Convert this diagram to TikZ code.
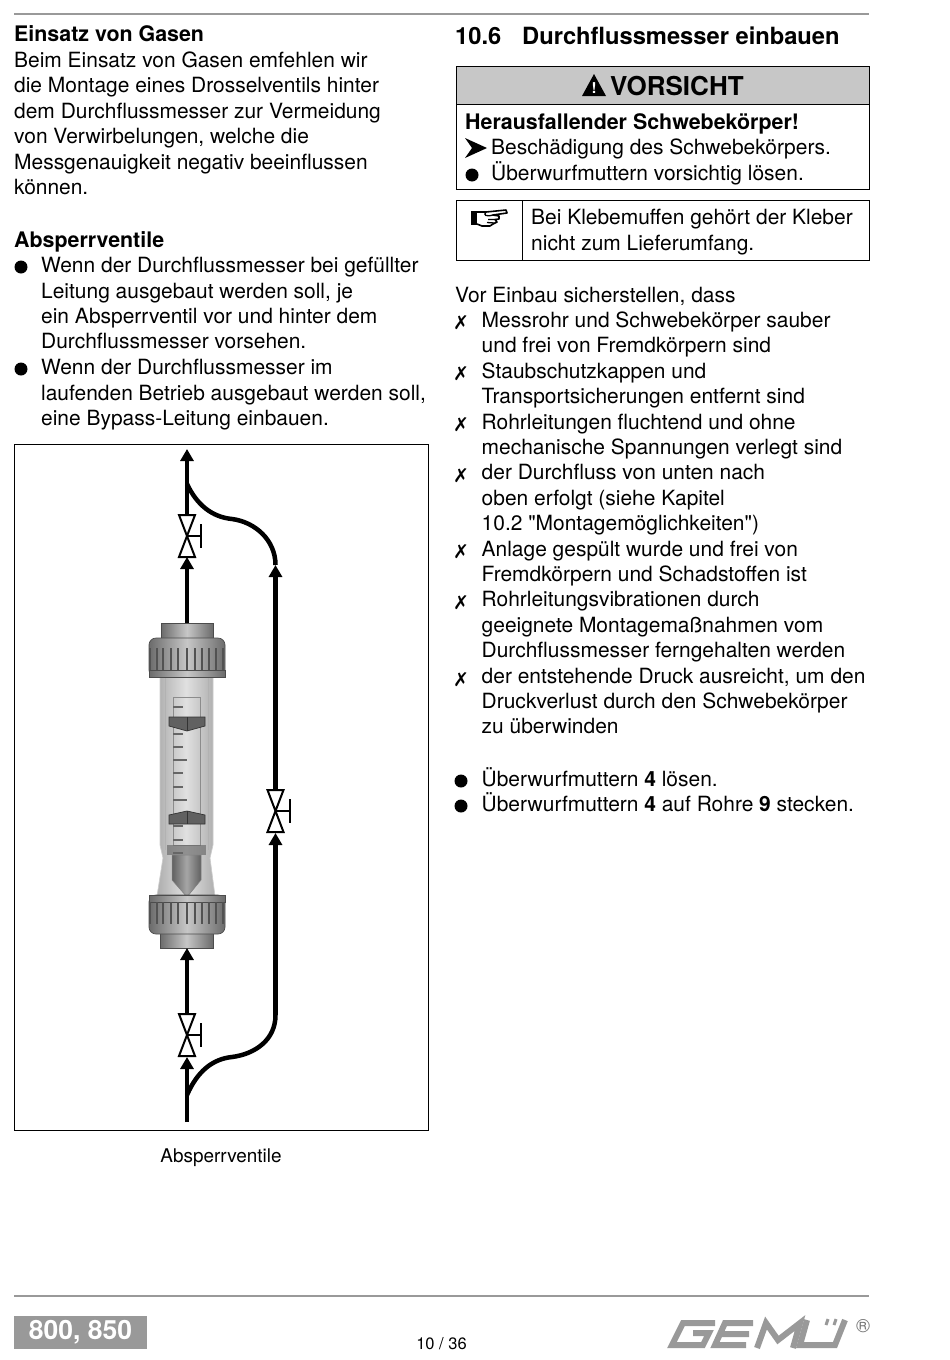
\documentclass[tikz,border=0pt]{standalone}
\usepackage{fontspec}
\setmainfont{TeX Gyre Heros}
\newfontfamily\symfont{DejaVu Sans}
\newfontfamily\quotefont{TeX Gyre Heros}
\usetikzlibrary{arrows.meta}
\definecolor{headgray}{gray}{0.78}
\definecolor{rulegray}{gray}{0.6}
\tikzset{
  body/.style={anchor=north west,yshift=17.78pt,inner sep=0pt,align=left,
    font=\fontsize{20.95}{25.4}\selectfont,execute at begin node=\strut},
  bodybold/.style={body,font=\fontsize{21.4}{25.4}\selectfont\bfseries},
  pipe/.style={line width=4.5pt,line cap=butt},
  flow/.style={pipe,-{Triangle[length=12pt,width=13pt]}},
  dot/.style={circle,fill=black,inner sep=0pt,minimum size=13pt},
  cross/.style={anchor=base,inner sep=0pt,font=\symfont\fontsize{19}{19}\selectfont},
  steel/.style={draw=black!70,line width=0.7pt,left color=black!58,right color=black!58,middle color=black!22},
  glass/.style={draw=black!20,line width=0.7pt,left color=black!32,right color=black!32,middle color=black!12},
  cone/.style={draw=black!50,line width=0.5pt,left color=black!62,right color=black!62,middle color=black!35},
  valve/.pic={
    \draw[line width=2pt,fill=white] (-8,-21) -- (8,-21) -- (-8,21) -- (8,21) -- cycle;
    \draw[line width=2pt] (0,0) -- (14,0) (14,-12) -- (14,12);
  },
}
\begin{document}
\begin{tikzpicture}[x=1pt,y=-1pt]
\useasboundingbox (0,0) rectangle (950,1360);
% page rules
\draw[rulegray,line width=2.5pt] (14,14) -- (869,14);
\draw[rulegray,line width=2.5pt] (14,1296) -- (869,1296);

% left column
\node[bodybold] (gashead) at (14,41) {Einsatz von Gasen};
\node[body] (gastext) at (14,69.5) {Beim Einsatz von Gasen emfehlen wir\\die Montage eines Drosselventils hinter\\dem Durchflussmesser zur Vermeidung\\von Verwirbelungen, welche die\\Messgenauigkeit negativ beeinflussen\\können.};
\node[bodybold] (shuthead) at (14,247) {Absperrventile};
\node[dot] (dota) at (21,267) {};
\node[body] (shuta) at (41,275) {Wenn der Durchflussmesser bei gefüllter\\Leitung ausgebaut werden soll, je\\ein Absperrventil vor und hinter dem\\Durchflussmesser vorsehen.};
\node[dot] (dotb) at (21,369) {};
\node[body] (shutb) at (41,377) {Wenn der Durchflussmesser im\\laufenden Betrieb ausgebaut werden soll,\\eine Bypass-Leitung einbauen.};

% picture frame
\draw[line width=1pt] (14,444) rectangle (428,1130);
\node[anchor=base,inner sep=0pt,font=\fontsize{18.9}{23}\selectfont] (caption) at (221,1162) {Absperrventile};

% flow meter
\path[steel] (161,623) rectangle (213,640);
\path[steel] (160,932) rectangle (213,948);
\path[glass] (160,676) -- (160,845) -- (163,858) -- (157,896) -- (215,896) -- (210,858) -- (213,845) -- (213,676) -- cycle;
\draw[black!45,line width=0.7pt] (173,697) rectangle (200,845);
\draw[black!30,line width=0.5pt] (165,676) -- (165,850) (208,676) -- (208,850);
\foreach \tick/\len in {707/10,734/10,747/10,760/14,773/10,787/10,800/14,826/10,840/10,853/10}
  \draw[black!60,line width=1.6pt] (173,\tick) -- ++(\len,0);
% lower float holder and cone
\fill[black!60,opacity=0.65] (167,845) rectangle (206,855);
\path[cone] (172,855) -- (201,855) -- (201,880) -- (187,897) -- (172,880) -- cycle;
% floats
\draw[black!80,line width=0.7pt,fill=black!62] (169,717) -- (205,717) -- (205,726) -- (187,731) -- (169,726) -- cycle;
\draw[black!80,line width=0.7pt] (187,717) -- (187,731);
\draw[black!80,line width=0.7pt,fill=black!62] (169,815) -- (187,811) -- (205,815) -- (205,824) -- (169,824) -- cycle;
\draw[black!80,line width=0.7pt] (187,811) -- (187,824);
% union nuts
\path[steel,rounded corners=7pt] (149,677) -- (149,638) -- (225,638) -- (225,677) -- cycle;
\path[steel] (149,670) rectangle (225,677);
\path[steel,rounded corners=7pt] (149,895) -- (149,934) -- (225,934) -- (225,895) -- cycle;
\path[steel] (149,895) rectangle (225,902);
\foreach \rib in {150,157,163,171,178,187,195,202,209,216,223}{
  \fill[black!68] (\rib-1.2,648) rectangle (\rib+1.2,670);
  \fill[black!68] (\rib-1.2,902) rectangle (\rib+1.2,924);
}

% pipes
\coordinate (topend) at (187,449);
\coordinate (topfork) at (187,484);
\coordinate (topvalve) at (187,536);
\coordinate (topvalvein) at (187,557);
\coordinate (topvalveout) at (187,516);
\coordinate (nutup) at (187,623);
\coordinate (nutdn) at (187,948);
\coordinate (botvalveout) at (187,1015);
\coordinate (botvalve) at (187,1035);
\coordinate (botvalvein) at (187,1057);
\coordinate (botfork) at (187,1095);
\coordinate (botend) at (187,1122);
\coordinate (byptop) at (275.5,565);
\coordinate (bypvalveout) at (275.5,790);
\coordinate (bypvalve) at (275.5,811);
\coordinate (bypvalvein) at (275.5,833);
\coordinate (bypbot) at (275.5,1015);
\draw[flow] (topvalveout) -- (topend);
\draw[flow] (nutup) -- (topvalvein);
\draw[flow] (botvalveout) -- (nutdn);
\draw[flow] (botend) -- (botvalvein);
\draw[flow] (bypbot) -- (bypvalvein);
\draw[flow] (bypvalveout) -- (byptop);
\draw[pipe] (topfork) .. controls (197,505) and (212,517) .. (232,519) .. controls (255,522) and (275.5,540) .. (byptop);
\draw[pipe] (botfork) .. controls (197,1072) and (212,1059) .. (232,1057) .. controls (255,1054) and (275.5,1040) .. (bypbot);
\pic at (topvalve) {valve};
\pic at (botvalve) {valve};
\pic at (bypvalve) {valve};

% right column
\node[anchor=base west,inner sep=0pt,font=\fontsize{23.7}{28}\selectfont\bfseries] (headnum) at (455,44) {10.6};
\node[anchor=base west,inner sep=0pt,font=\fontsize{23.7}{28}\selectfont\bfseries] (headtxt) at (522,44) {Durchflussmesser einbauen};
\draw[line width=1pt,fill=headgray] (456,66) rectangle (869,104);
\draw[line width=1pt] (456,104) rectangle (869,189);
\fill (594,74) -- (606,96) -- (582,96) -- cycle;
\node[text=white,inner sep=0pt,font=\fontsize{15}{15}\selectfont\bfseries] (warnmark) at (594,88) {!};
\node[anchor=base west,inner sep=0pt,font=\fontsize{26}{28}\selectfont\bfseries] (warnhead) at (610,95) {VORSICHT};
\node[bodybold] (warnsub) at (465,129) {Herausfallender Schwebekörper!};
\fill (465,138) -- (487,148) -- (465,158) -- (472,148) -- cycle;
\node[body] (warna) at (491,154) {Beschädigung des Schwebekörpers.};
\node[dot] (warndot) at (472,175) {};
\node[body] (warnb) at (491,179.5) {Überwurfmuttern vorsichtig lösen.};
\draw[line width=1pt] (456,200) rectangle (869,260);
\draw[line width=1pt] (522,200) -- (522,260);
% pointing hand
\fill (471,211) rectangle (477,225);
\draw[line width=1.6pt,line join=round] (477,212) -- (486,212) -- (506,210) -- (507,213) -- (493,215) -- (499,216) -- (499,219) -- (495,219.5) -- (497,222) -- (493,224) -- (490,226) -- (482,226) -- (477,224);
\draw[line width=1.3pt] (486,212) .. controls (483,215) and (486,217) .. (493,215);
\draw[line width=1.3pt] (488,219.5) -- (495,219.5) (487,222.5) -- (494,223);
\node[body] (hint) at (531,227) {Bei Klebemuffen gehört der Kleber\\nicht zum Lieferumfang.};

\node[body] (before) at (455,302) {Vor Einbau sicherstellen, dass};
\foreach \cy in {329,380,431,482,558,609,686}
  \node[cross] (cross\cy) at (461,\cy) {✗};
\node[body] (lista) at (481.5,329.5) {Messrohr und Schwebekörper sauber\\und frei von Fremdkörpern sind\\Staubschutzkappen und\\Transportsicherungen entfernt sind\\Rohrleitungen fluchtend und ohne\\mechanische Spannungen verlegt sind\\der Durchfluss von unten nach\\oben erfolgt (siehe Kapitel\\10.2 {\quotefont"}Montagemöglichkeiten{\quotefont"})\\Anlage gespült wurde und frei von\\Fremdkörpern und Schadstoffen ist\\Rohrleitungsvibrationen durch\\geeignete Montagemaßnahmen vom\\Durchflussmesser ferngehalten werden\\der entstehende Druck ausreicht, um den\\Druckverlust durch den Schwebekörper\\zu überwinden};
\node[dot] (dotc) at (461,781) {};
\node[body] (stepa) at (481.5,785) {Überwurfmuttern \textbf{4} lösen.};
\node[dot] (dotd) at (461,806) {};
\node[body] (stepb) at (481.5,810) {Überwurfmuttern \textbf{4} auf Rohre \textbf{9} stecken.};

% footer
\fill[rulegray] (14,1316) rectangle (147,1349);
\node[inner sep=0pt,text=white,font=\fontsize{26.5}{28}\selectfont\bfseries] (model) at (80.5,1332.5) {800, 850};
\node[anchor=base,inner sep=0pt,font=\fontsize{16.5}{18}\selectfont] (page) at (441.5,1349) {10 / 36};
\begin{scope}[rulegray,line width=6pt,line join=miter]
\draw (715,1323) -- (683,1323) -- (672,1345) -- (703,1345) -- (709,1333) -- (693,1333);
\draw (753,1323) -- (725,1323) -- (715,1345) -- (746,1345) (722,1334) -- (749,1334);
\draw (757,1348) -- (766,1323) -- (778,1340) -- (800,1323) -- (793,1348);
\draw (807,1320) -- (800,1345) -- (835,1345) -- (845,1320);
\draw[line width=3pt] (828,1319) -- (826,1325) (836,1319) -- (834,1325);
\end{scope}
\node[inner sep=0pt,text=black!55,font=\fontsize{19}{19}\selectfont] (regmark) at (863,1326) {®};
\end{tikzpicture}
\end{document}
